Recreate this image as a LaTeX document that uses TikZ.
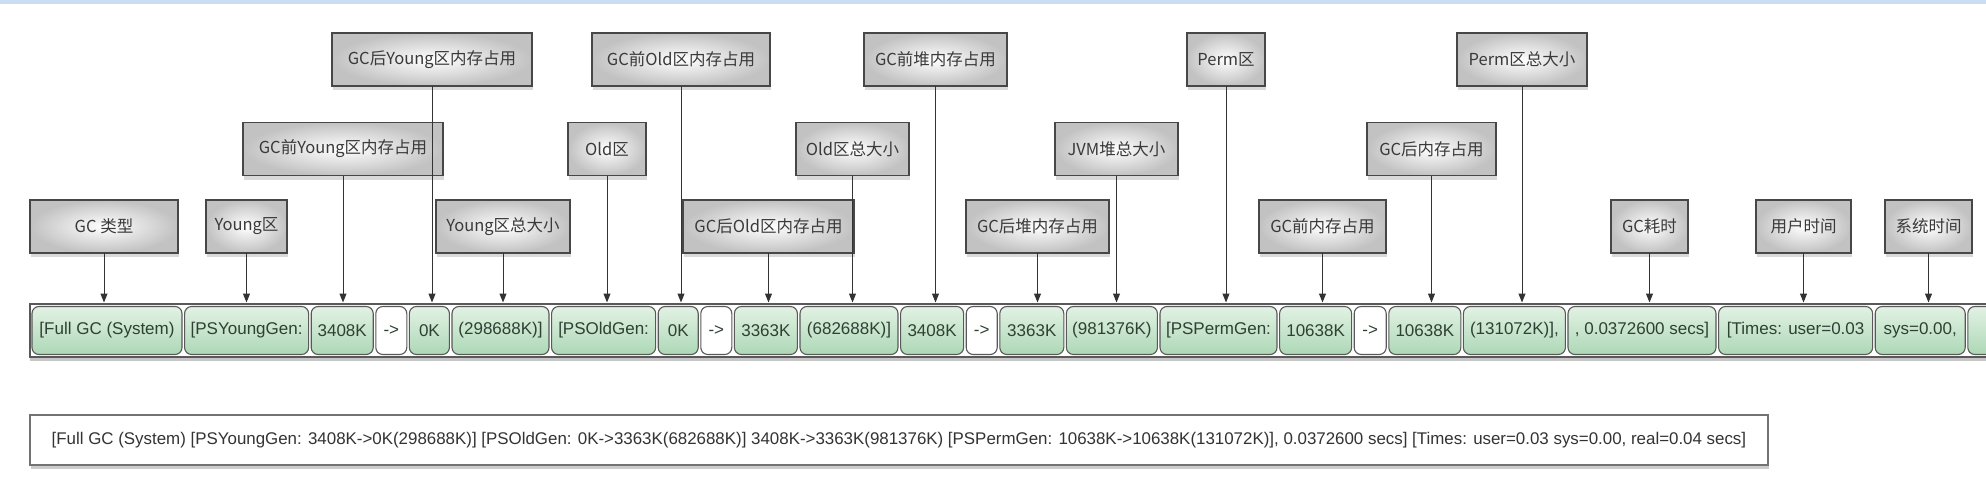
\documentclass[tikz,border=0pt]{standalone}
\usepackage{fontspec}
\setmainfont{Liberation Sans}
\newfontfamily\cjk{Noto Sans CJK SC}
\usepackage{tikz}
\usetikzlibrary{positioning,shadows,arrows.meta}
\definecolor{fieldtop}{HTML}{E2F2E4}
\definecolor{fieldbot}{HTML}{ADD8B6}
\definecolor{fieldtext}{HTML}{2F4034}
\definecolor{tagtext}{HTML}{3A3A3A}
\definecolor{topband}{HTML}{CADDF2}

\begin{document}
\begin{tikzpicture}[
    x=1pt, y=-1pt,
    node distance=2.6pt,
    outer sep=0pt,
    field/.style={draw=black!65, line width=1.1pt, rounded corners=7pt, top color=fieldtop, bottom color=fieldbot, minimum height=48pt, inner xsep=1pt, text=fieldtext, font=\fontsize{17}{20}\selectfont},
    arrowfield/.style={field, top color=white, bottom color=white},
    tag/.style={draw=black!72, line width=1.2pt, shading=radial, inner color=white, outer color=black!24, minimum height=53pt, text=tagtext, font=\cjk\fontsize{16.5}{19}\selectfont, drop shadow={shadow xshift=1pt, shadow yshift=-4pt, opacity=0.3}},
    pointer/.style={draw=black!80, line width=1pt, -{Triangle[width=7pt,length=9pt]}, shorten >=4pt}
]
    \useasboundingbox (0,0) rectangle (1986,492);
    \clip (0,0) rectangle (1986,492);
    \fill[topband] (0,0) rectangle (1986,4);

    % labels, three rows
    \node[tag, minimum width=200pt] (lyafter) at (432,59.5) {GC后Young区内存占用};
    \node[tag, minimum width=178pt] (lobefore) at (681,59.5) {GC前Old区内存占用};
    \node[tag, minimum width=143pt] (lhbefore) at (935.5,59.5) {GC前堆内存占用};
    \node[tag, minimum width=78pt] (lpgen) at (1226,59.5) {Perm区};
    \node[tag, minimum width=130pt] (lptotal) at (1522,59.5) {Perm区总大小};

    \node[tag, minimum width=200pt] (lybefore) at (343,149) {GC前Young区内存占用};
    \node[tag, minimum width=78pt] (logen) at (607,149) {Old区};
    \node[tag, minimum width=113pt] (lototal) at (852.5,149) {Old区总大小};
    \node[tag, minimum width=123pt] (lhtotal) at (1116.5,149) {JVM堆总大小};
    \node[tag, minimum width=129pt] (lpafter) at (1431.5,149) {GC后内存占用};

    \node[tag, minimum width=148pt] (lgctype) at (104,226.5) {GC 类型};
    \node[tag, minimum width=81pt] (lygen) at (246.5,226.5) {Young区};
    \node[tag, minimum width=134pt] (lytotal) at (503,226.5) {Young区总大小};
    \node[tag, minimum width=171pt] (loafter) at (768.5,226.5) {GC后Old区内存占用};
    \node[tag, minimum width=143pt] (lhafter) at (1037.5,226.5) {GC后堆内存占用};
    \node[tag, minimum width=127pt] (lpbefore) at (1322.5,226.5) {GC前内存占用};
    \node[tag, minimum width=77pt] (lgctime) at (1649.5,226.5) {GC耗时};
    \node[tag, minimum width=95pt] (ltuser) at (1803.5,226.5) {用户时间};
    \node[tag, minimum width=87pt] (ltsys) at (1928.5,226.5) {系统时间};

    % the log line, split into fields
    \draw[draw=black!65, line width=1.5pt, fill=white, drop shadow={shadow xshift=0pt, shadow yshift=-4pt, opacity=0.45}] (30,304) rectangle (2000,357);
    \node[field, minimum width=150pt, anchor=west] (gctype) at (32,330.5) {[Full GC (System)};
    \node[field, minimum width=124pt, right=of gctype] (ygen) {[PSYoungGen:};
    \node[field, minimum width=62pt, right=of ygen] (ybefore) {3408K};
    \node[arrowfield, minimum width=31pt, right=of ybefore] (yarrow) {->};
    \node[field, minimum width=40pt, right=of yarrow] (yafter) {0K};
    \node[field, minimum width=97pt, right=of yafter] (ytotal) {(298688K)]};
    \node[field, minimum width=104pt, right=of ytotal] (ogen) {[PSOldGen:};
    \node[field, minimum width=40pt, right=of ogen] (obefore) {0K};
    \node[arrowfield, minimum width=31pt, right=of obefore] (oarrow) {->};
    \node[field, minimum width=63pt, right=of oarrow] (oafter) {3363K};
    \node[field, minimum width=98pt, right=of oafter] (ototal) {(682688K)]};
    \node[field, minimum width=63pt, right=of ototal] (hbefore) {3408K};
    \node[arrowfield, minimum width=31pt, right=of hbefore] (harrow) {->};
    \node[field, minimum width=64pt, right=of harrow] (hafter) {3363K};
    \node[field, minimum width=91pt, right=of hafter] (htotal) {(981376K)};
    \node[field, minimum width=117pt, right=of htotal] (pgen) {[PSPermGen:};
    \node[field, minimum width=72pt, right=of pgen] (pbefore) {10638K};
    \node[arrowfield, minimum width=32pt, right=of pbefore] (parrow) {->};
    \node[field, minimum width=72pt, right=of parrow] (pafter) {10638K};
    \node[field, minimum width=102pt, right=of pafter] (ptotal) {(131072K)],};
    \node[field, minimum width=148pt, right=of ptotal] (gctime) {, 0.0372600 secs]};
    \node[field, minimum width=154pt, right=of gctime] (tuser) {[Times: user=0.03};
    \node[field, minimum width=90pt, right=of tuser] (tsys) {sys=0.00,};
    \node[field, minimum width=150pt, right=of tsys] (treal) {};

    % the whole line
    \node[draw=black!55, line width=1.2pt, fill=white, minimum width=1738pt, minimum height=50pt, anchor=north west, font=\fontsize{16.9}{20}\selectfont, text=black!80, drop shadow={shadow xshift=1pt, shadow yshift=-4pt, opacity=0.4}] (log) at (30,415) {[Full GC (System) [PSYoungGen: 3408K->0K(298688K)] [PSOldGen: 0K->3363K(682688K)] 3408K->3363K(981376K) [PSPermGen: 10638K->10638K(131072K)], 0.0372600 secs] [Times: user=0.03 sys=0.00, real=0.04 secs]};

    % pointers
    \draw[pointer] (lgctype) -- (lgctype |- gctype.north);
    \draw[pointer] (lygen) -- (lygen |- ygen.north);
    \draw[pointer] (lybefore) -- (lybefore |- ybefore.north);
    \draw[pointer] (lyafter) -- (lyafter |- yafter.north);
    \draw[pointer] (lytotal) -- (lytotal |- ytotal.north);
    \draw[pointer] (logen) -- (logen |- ogen.north);
    \draw[pointer] (lobefore) -- (lobefore |- obefore.north);
    \draw[pointer] (loafter) -- (loafter |- oafter.north);
    \draw[pointer] (lototal) -- (lototal |- ototal.north);
    \draw[pointer] (lhbefore) -- (lhbefore |- hbefore.north);
    \draw[pointer] (lhafter) -- (lhafter |- hafter.north);
    \draw[pointer] (lhtotal) -- (lhtotal |- htotal.north);
    \draw[pointer] (lpgen) -- (lpgen |- pgen.north);
    \draw[pointer] (lpbefore) -- (lpbefore |- pbefore.north);
    \draw[pointer] (lpafter) -- (lpafter |- pafter.north);
    \draw[pointer] (lptotal) -- (lptotal |- ptotal.north);
    \draw[pointer] (lgctime) -- (lgctime |- gctime.north);
    \draw[pointer] (ltuser) -- (ltuser |- tuser.north);
    \draw[pointer] (ltsys) -- (ltsys |- tsys.north);
\end{tikzpicture}
\end{document}
